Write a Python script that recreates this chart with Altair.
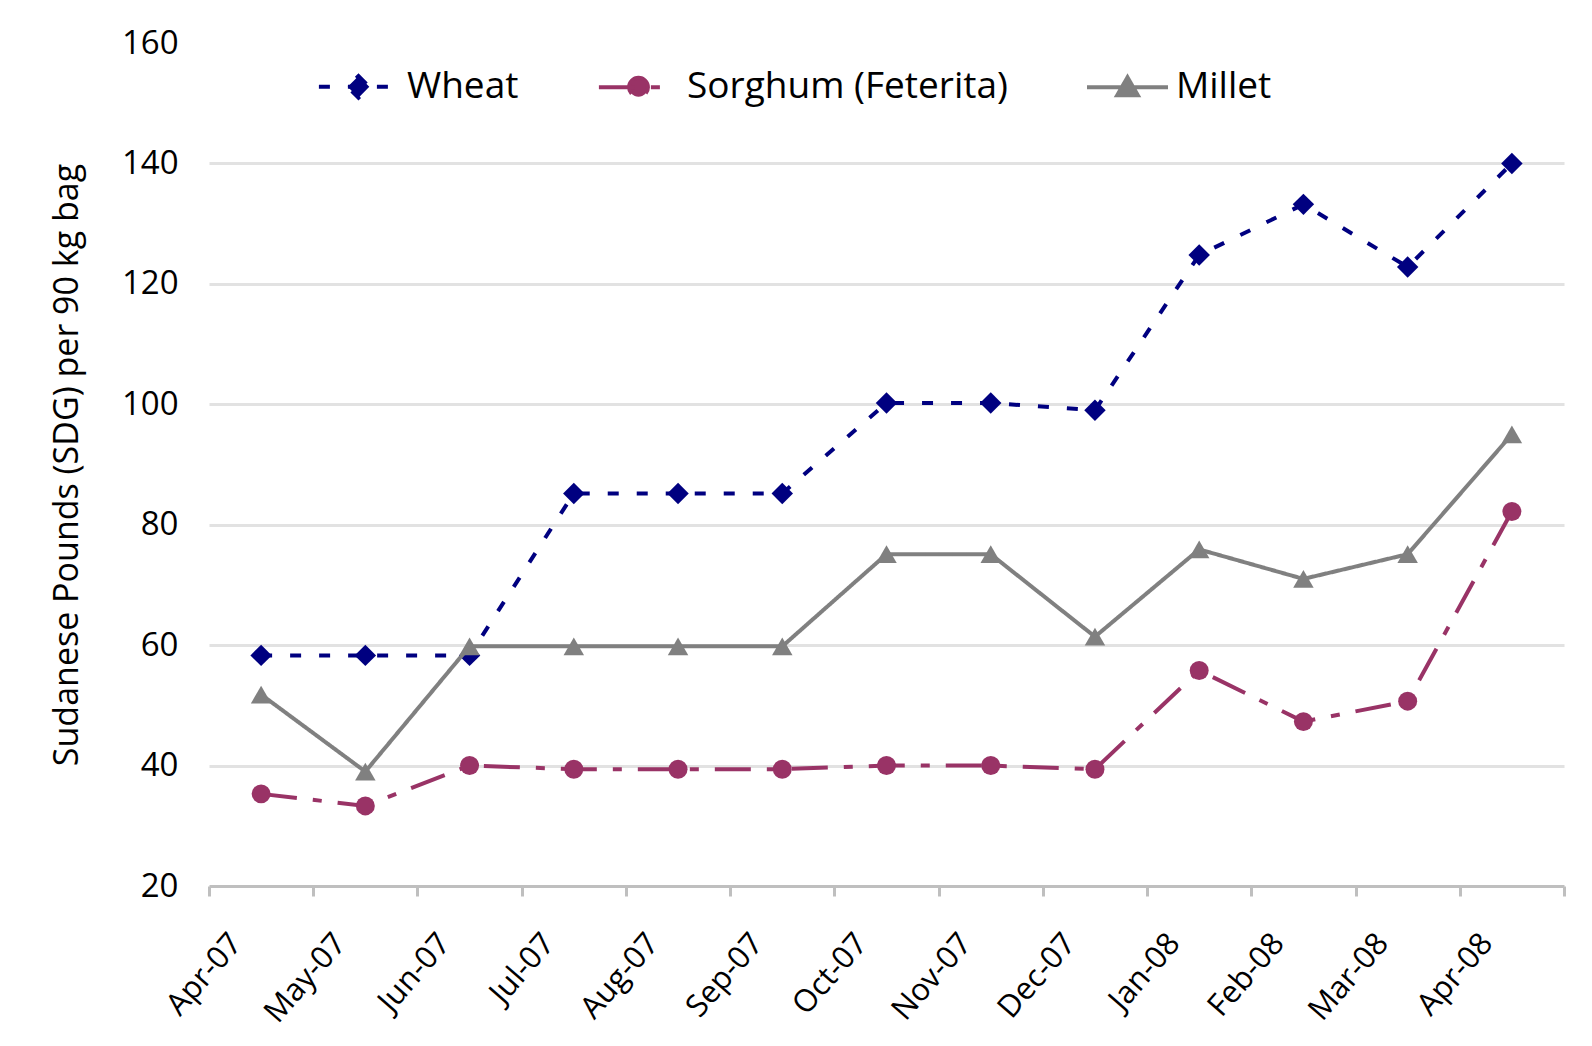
import altair as alt
import pandas as pd

months = ["Apr-07", "May-07", "Jun-07", "Jul-07", "Aug-07", "Sep-07", "Oct-07",
          "Nov-07", "Dec-07", "Jan-08", "Feb-08", "Mar-08", "Apr-08"]
series_names = ["Wheat", "Sorghum (Feterita)", "Millet"]
wheat = [58.3, 58.3, 58.3, 85.2, 85.2, 85.2, 100.2, 100.2, 99.0, 124.8, 133.2, 122.8, 140.0]
sorghum = [35.3, 33.3, 40.0, 39.4, 39.4, 39.4, 40.0, 40.0, 39.4, 55.8, 47.3, 50.7, 82.2]
millet = [51.8, 39.0, 59.8, 59.8, 59.8, 59.8, 75.1, 75.1, 61.4, 75.9, 71.0, 75.1, 95.0]
y_ticks = [20, 40, 60, 80, 100, 120, 140, 160]

colors = ["#000080", "#993366", "#808080"]
dashes = [[11, 18], [36, 16, 9, 16], [1, 0]]
marker_shapes = ["diamond", "circle", "triangle-up"]
marker_sizes = [460, 360, 420]
legend_paths = [
    "M-4.4,0H3.7M0,-1.2L1.2,0L0,1.2L-1.2,0Z",
    "M-4.4,0H3.3M-1.05,0A1.05,1.05,0,1,1,1.05,0A1.05,1.05,0,1,1,-1.05,0Z",
    "M-4.5,0H4.5M0,-1.1L1.15,0.9L-1.15,0.9Z",
]

rows = []
for name, vals in zip(series_names, [wheat, sorghum, millet]):
    for i, (m, v) in enumerate(zip(months, vals)):
        rows.append({"series": name, "month": m, "value": v, "idx": i})
df = pd.DataFrame(rows)

FONT = "Open Sans"
W, H = 1355, 843

x_enc = alt.X(
    "month:N", sort=months, title=None,
    scale=alt.Scale(type="band", paddingInner=0, paddingOuter=0),
    axis=alt.Axis(
        tickBand="extent", labelAngle=-49, labelAlign="right", labelBaseline="middle",
        labelOffset=-25, labelPadding=42, tickSize=10, tickWidth=3, tickColor="#bfbfbf",
        domainColor="#bfbfbf", domainWidth=3, grid=False,
        labelFont=FONT, labelFontSize=31, labelColor="black",
    ),
)
y_enc = alt.Y(
    "value:Q", title="Sudanese Pounds (SDG) per 90 kg bag",
    scale=alt.Scale(domain=[20, 160], nice=False, zero=False),
    axis=alt.Axis(
        values=y_ticks, domain=False, ticks=False, labelPadding=31,
        labelFont=FONT, labelFontSize=33, labelColor="black",
        titleFont=FONT, titleFontSize=34, titleFontWeight="normal", titleColor="black",
        titlePadding=37,
        gridColor={"condition": {"test": "datum.value == 160 || datum.value == 20",
                                 "value": "transparent"}, "value": "#e2e2e2"},
        gridWidth=3,
    ),
)

leg = alt.Legend(
    title=None, orient="none", legendX=100, legendY=25, direction="horizontal",
    symbolSize=324, symbolStrokeWidth=4, symbolOffset=31, labelOffset=30,
    labelFont=FONT, labelFontSize=37, labelColor="black", columnPadding=70,
    padding=0, labelLimit=800,
)

legend_layer = alt.Chart(df).transform_filter("false").mark_point(
    filled=True, opacity=1
).encode(
    x=x_enc, y=y_enc,
    fill=alt.Fill("series:N", scale=alt.Scale(domain=series_names, range=colors), legend=leg),
    stroke=alt.Stroke("series:N", scale=alt.Scale(domain=series_names, range=colors), legend=leg),
    shape=alt.Shape("series:N", scale=alt.Scale(domain=series_names, range=legend_paths), legend=leg),
    strokeDash=alt.StrokeDash("series:N", scale=alt.Scale(domain=series_names, range=dashes), legend=leg),
)

layers = [legend_layer]
for name, col, dash, shp, sz in zip(series_names, colors, dashes, marker_shapes, marker_sizes):
    base = alt.Chart(df).transform_filter(alt.datum.series == name)
    line = base.mark_line(color=col, strokeWidth=4, strokeDash=dash, strokeCap="butt").encode(
        x=x_enc, y=y_enc, order=alt.Order("idx:Q")
    )
    pts = base.mark_point(filled=True, opacity=1, color=col, shape=shp, size=sz).encode(
        x=x_enc, y=y_enc
    )
    layers += [line, pts]

chart = alt.layer(*layers).properties(
    width=W, height=H,
    autosize=alt.AutoSizeParams(type="none"),
    padding={"left": 201, "top": 35, "right": 20, "bottom": 152},
    background="white",
).configure_view(stroke=None)

chart.save("out.html", embed_options={"renderer": "svg", "actions": False})
